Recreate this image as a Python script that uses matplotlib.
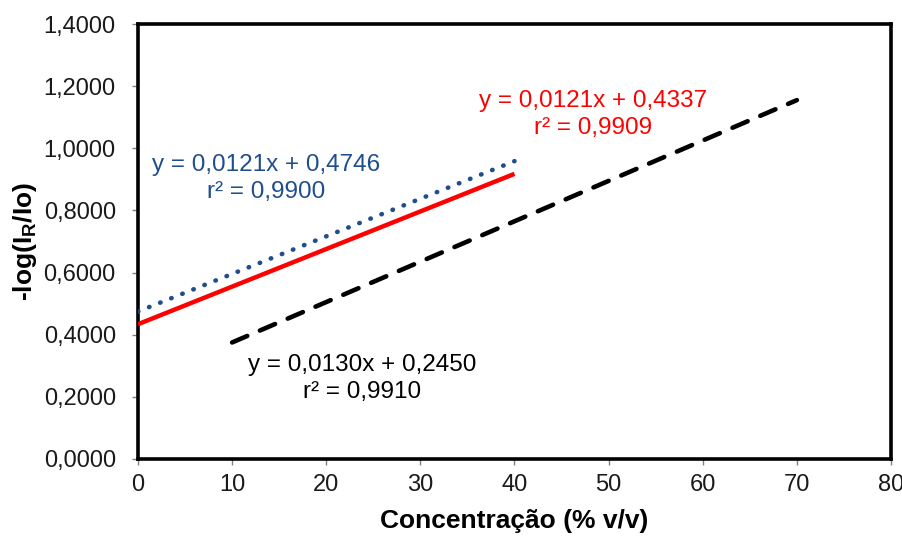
import numpy as np
import matplotlib
matplotlib.use("Agg")
import matplotlib.pyplot as plt

plt.rcParams['font.family'] = ['Liberation Sans', 'DejaVu Sans']
plt.rcParams['mathtext.fontset'] = 'custom'
plt.rcParams['mathtext.rm'] = 'Liberation Sans'
plt.rcParams['mathtext.bf'] = 'Liberation Sans:bold'

# Linear fits: slope, intercept, r², x-range
blue_fit = (0.0121, 0.4746)
blue_r2 = 0.9900
blue_x = [0, 40]

red_fit = (0.0121, 0.4337)
red_r2 = 0.9909
red_x = [0, 40]

black_fit = (0.0130, 0.2450)
black_r2 = 0.9910
black_x = [10, 70]

x_ticks = [0, 10, 20, 30, 40, 50, 60, 70, 80]
y_ticks = [0.0, 0.2, 0.4, 0.6, 0.8, 1.0, 1.2, 1.4]

blue = '#1F4E8C'
red = '#FF0000'


def fmt_num(v, nd=4):
    return f"{v:.{nd}f}".replace('.', ',')


def eq_label(fit, r2):
    return f"y = {fmt_num(fit[0])}x + {fmt_num(fit[1])}\nr² = {fmt_num(r2)}"


fig = plt.figure(figsize=(9.03, 5.37), dpi=100)
ax = fig.add_axes([0.1528, 0.1453, 0.8339, 0.81])

def line(fit, xr):
    xs = np.array(xr, dtype=float)
    return xs, fit[0] * xs + fit[1]

xs, ys = line(blue_fit, blue_x)
ax.plot(xs, ys, color=blue, lw=3.3, linestyle=(0, (0.1, 2.5)), dash_capstyle='round', zorder=3)
xs, ys = line(red_fit, red_x)
ax.plot(xs, ys, color=red, lw=3.2, solid_capstyle='butt', zorder=4)
xs, ys = line(black_fit, black_x)
ax.plot(xs, ys, color='black', lw=3.3, linestyle=(0, (3.6, 3.0)), dash_capstyle='round', zorder=3)

ax.text(13.65, 0.903, eq_label(blue_fit, blue_r2), color=blue, fontsize=17.5,
        ha='center', va='center', linespacing=1.25)
ax.text(48.3, 1.109, eq_label(red_fit, red_r2), color=red, fontsize=17.5,
        ha='center', va='center', linespacing=1.25)
ax.text(23.8, 0.259, eq_label(black_fit, black_r2), color='black', fontsize=17.5,
        ha='center', va='center', linespacing=1.25)

ax.set_xlim(0, 80)
ax.set_ylim(0, 1.4)
ax.set_xticks(x_ticks)
ax.set_yticks(y_ticks)
ax.set_yticklabels([fmt_num(v) for v in y_ticks])
ax.tick_params(axis='both', direction='out', length=4, width=1, color='#808080',
               labelsize=17, labelcolor='#1a1a1a')
ax.tick_params(axis='y', pad=12)
ax.tick_params(axis='x', pad=7)

for s in ax.spines.values():
    s.set_linewidth(2.6)
    s.set_color('black')

ax.set_xlabel('Concentração (% v/v)', fontsize=19, fontweight='bold', labelpad=9)
ax.set_ylabel(r'-log(I$_\mathbf{R}$/Io)', fontsize=19, fontweight='bold', labelpad=3)

fig.savefig('out.png', dpi=100, facecolor='white')
